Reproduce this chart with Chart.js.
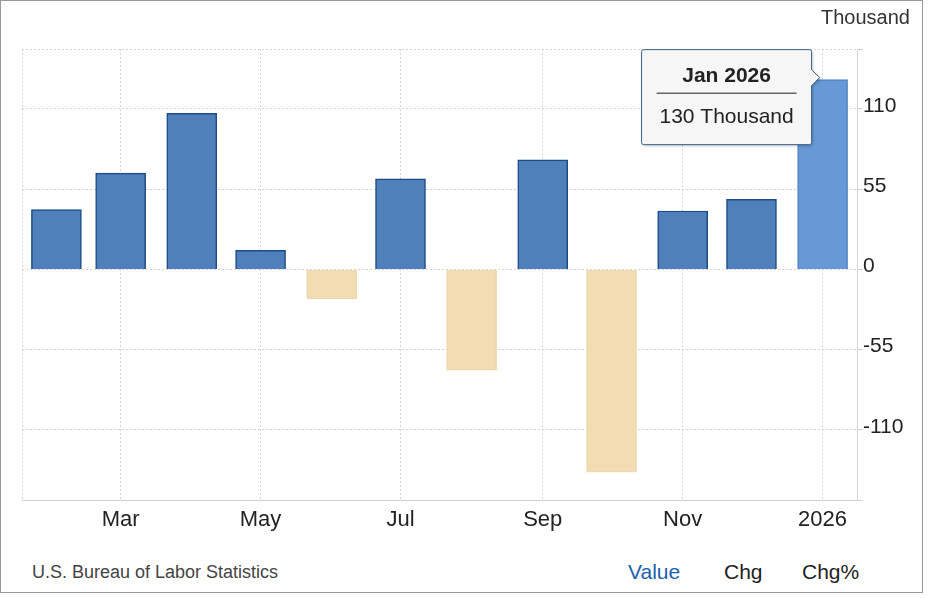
<!DOCTYPE html>
<html>
<head>
<meta charset="utf-8">
<script src="https://cdn.jsdelivr.net/npm/chart.js@4.4.1/dist/chart.umd.min.js"></script>
<style>
    body { margin: 0; background: #fff; font-family: "Liberation Sans", Arial, sans-serif; }
    #frame { position: absolute; left: 0; top: 0; width: 921px; height: 591px; border: 1.5px solid #9a9a9a; }
    #chart { position: absolute; left: 0; top: 0; }
    .txt { position: absolute; white-space: nowrap; }
    #unit { right: 19px; top: 6px; font-size: 20px; color: #333; }
    #source { left: 32px; top: 562px; font-size: 18px; color: #444; }
    #value { left: 628px; top: 560px; font-size: 21px; color: #1c5fad; }
    #chg { left: 724px; top: 560px; font-size: 21px; color: #222; }
    #chgp { left: 802px; top: 560px; font-size: 21px; color: #222; }
</style>
</head>
<body>
<div id="frame"></div>
<canvas id="chart" width="929" height="545"></canvas>
<div class="txt" id="unit">Thousand</div>
<div class="txt" id="source">U.S. Bureau of Labor Statistics</div>
<div class="txt" id="value">Value</div>
<div class="txt" id="chg">Chg</div>
<div class="txt" id="chgp">Chg%</div>
<script>
const dates = ['2025-02-01', '2025-03-01', '2025-04-01', '2025-05-01', '2025-06-01', '2025-07-01',
    '2025-08-01', '2025-09-01', '2025-10-01', '2025-11-01', '2025-12-01', '2026-01-01'];
const months = ['Feb 2025', 'Mar 2025', 'Apr 2025', 'May 2025', 'Jun 2025', 'Jul 2025',
    'Aug 2025', 'Sep 2025', 'Oct 2025', 'Nov 2025', 'Dec 2025', 'Jan 2026'];
const tickLabels = ['', 'Mar', '', 'May', '', 'Jul', '', 'Sep', '', 'Nov', '', '2026'];
const values = [41, 66, 107, 13, -20, 62, -69, 75, -139, 40, 48, 130];
const yStep = 55;
const yMin = -158;
const yMax = 151;
const unit = 'Thousand';
const tipIndex = values.length - 1;

const fontFamily = '"Liberation Sans", Arial, sans-serif';

// days since the first month, so the x axis keeps real month lengths
const day0 = Date.parse(dates[0]);
const days = dates.map(d => Math.round((Date.parse(d) - day0) / 864e5));
const padDays = 15;

function fillFor(i) {
    if (values[i] < 0) return '#f2dcb1';
    if (i === tipIndex) return '#6699d5';
    return '#4f80bc';
}
function borderFor(i) {
    if (values[i] < 0) return '#efd8ab';
    if (i === tipIndex) return '#5283c2';
    return '#1e4a85';
}

// dotted left edge of the plot
const edgePlugin = {
    id: 'edge',
    beforeDatasetsDraw(chart) {
        const a = chart.chartArea;
        const c = chart.ctx;
        c.save();
        c.strokeStyle = '#d6d6d6';
        c.lineWidth = 1;
        c.setLineDash([2, 2]);
        c.beginPath();
        c.moveTo(a.left + 0.5, a.top);
        c.lineTo(a.left + 0.5, a.bottom);
        c.stroke();
        c.restore();
    }
};

// always-on tooltip for the last bar
const tipPlugin = {
    id: 'tip',
    afterDraw(chart) {
        const el = chart.getDatasetMeta(0).data[tipIndex];
        const c = chart.ctx;
        const w = 170, h = 95;
        const right = el.x - 11;
        const left = right - w;
        const top = el.y - 30;
        const bottom = top + h;
        const cy = el.y - 2;
        const tipX = right + 8;

        c.save();
        c.shadowColor = 'rgba(0,0,0,0.25)';
        c.shadowBlur = 3;
        c.shadowOffsetX = 1;
        c.shadowOffsetY = 1;
        c.beginPath();
        c.moveTo(left + 2, top);
        c.lineTo(right - 2, top);
        c.quadraticCurveTo(right, top, right, top + 2);
        c.lineTo(right, cy - 8);
        c.lineTo(tipX, cy);
        c.lineTo(right, cy + 8);
        c.lineTo(right, bottom - 2);
        c.quadraticCurveTo(right, bottom, right - 2, bottom);
        c.lineTo(left + 2, bottom);
        c.quadraticCurveTo(left, bottom, left, bottom - 2);
        c.lineTo(left, top + 2);
        c.quadraticCurveTo(left, top, left + 2, top);
        c.closePath();
        c.fillStyle = '#f6f6f6';
        c.fill();
        c.shadowColor = 'transparent';
        c.strokeStyle = '#3a5f8c';
        c.lineWidth = 1;
        c.stroke();

        const cx = left + w / 2;
        c.fillStyle = '#222';
        c.textAlign = 'center';
        c.textBaseline = 'middle';
        c.font = 'bold 21px ' + fontFamily;
        c.fillText(months[tipIndex], cx, top + 27);
        c.strokeStyle = '#666';
        c.lineWidth = 1.5;
        c.beginPath();
        c.moveTo(left + 15, top + 43.5);
        c.lineTo(right - 15, top + 43.5);
        c.stroke();
        c.font = '21px ' + fontFamily;
        c.fillText(values[tipIndex] + ' ' + unit, cx, top + 68);
        c.restore();
    }
};

new Chart(document.getElementById('chart'), {
    type: 'bar',
    data: {
        datasets: [{
            label: 'Value',
            data: values.map((v, i) => ({ x: days[i], y: v })),
            backgroundColor: values.map((v, i) => fillFor(i)),
            borderColor: values.map((v, i) => borderFor(i)),
            borderWidth: 1.5,
            barThickness: 50
        }]
    },
    options: {
        responsive: false,
        animation: false,
        devicePixelRatio: 1,
        layout: { padding: { left: 22, top: 49, right: 0, bottom: 0 } },
        plugins: {
            legend: { display: false },
            tooltip: { enabled: false }
        },
        scales: {
            x: {
                type: 'linear',
                offset: false,
                min: days[0] - padDays,
                max: days[days.length - 1] + padDays,
                afterBuildTicks: s => {
                    s.ticks = days.filter((d, i) => tickLabels[i]).map(d => ({ value: d }));
                },
                grid: {
                    offset: false,
                    drawTicks: false,
                    color: '#d6d6d6',
                    lineWidth: 1
                },
                border: { display: true, color: '#cfcfcf', dash: [2, 2] },
                ticks: {
                    autoSkip: false,
                    maxRotation: 0,
                    padding: 7,
                    color: '#222',
                    font: { family: fontFamily, size: 22 },
                    callback: v => tickLabels[days.indexOf(v)]
                },
                afterFit: s => { s.height = 45; }
            },
            y: {
                position: 'right',
                min: yMin,
                max: yMax,
                grid: {
                    color: '#d6d6d6',
                    tickLength: 6,
                    tickBorderDash: [],
                    tickColor: '#cfcfcf'
                },
                border: { display: true, color: '#d4d4d4', dash: [2, 2] },
                ticks: {
                    stepSize: yStep,
                    padding: 0,
                    labelOffset: -3,
                    color: '#222',
                    font: { family: fontFamily, size: 21 },
                    callback: v => (v % yStep === 0 ? v : '')
                },
                afterFit: s => { s.width = 72; }
            }
        }
    },
    plugins: [edgePlugin, tipPlugin]
});
</script>
</body>
</html>
